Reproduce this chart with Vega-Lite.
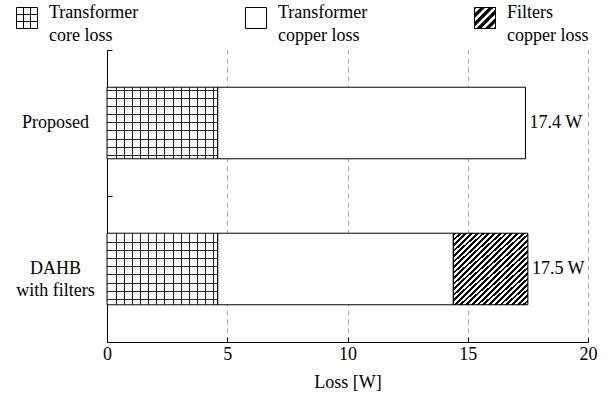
{
  "$schema": "https://vega.github.io/schema/vega-lite/v6.json",
  "width": 481,
  "height": 292,
  "autosize": {"type": "none"},
  "padding": {"left": 107, "top": 50, "right": 27, "bottom": 56},
  "background": "white",
  "data": {
    "values": [
      {"method": "Proposed", "component": "Transformer core loss", "start": 0, "end": 4.6},
      {"method": "Proposed", "component": "Transformer copper loss", "start": 4.6, "end": 17.4},
      {"method": "DAHB with filters", "component": "Transformer core loss", "start": 0, "end": 4.6},
      {"method": "DAHB with filters", "component": "Transformer copper loss", "start": 4.6, "end": 14.4},
      {"method": "DAHB with filters", "component": "Filters copper loss", "start": 14.4, "end": 17.5}
    ]
  },
  "layer": [
    {
      "mark": {"type": "bar", "height": {"band": 0.49}, "stroke": null},
      "encoding": {
        "x": {"field": "start", "type": "quantitative", "scale": {"domain": [0, 20], "nice": false}, "title": "Loss [W]"},
        "x2": {"field": "end"},
        "y": {"field": "method", "type": "nominal", "scale": {"domain": ["Proposed", "DAHB with filters"], "paddingInner": 0, "paddingOuter": 0}, "title": null},
        "fill": {
          "field": "component", "type": "nominal",
          "scale": {"domain": ["Transformer core loss", "Transformer copper loss", "Filters copper loss"], "range": ["white", "white", "black"]},
          "legend": {
            "orient": "none", "legendX": -91, "legendY": -43,
            "direction": "horizontal", "columns": 3, "title": null,
            "symbolType": "square", "symbolSize": 441, "symbolStrokeColor": "black", "symbolStrokeWidth": 1,
            "labelFont": "Liberation Serif", "labelFontSize": 18, "labelColor": "black", "labelOffset": 11,
            "columnPadding": 104, "labelLimit": 200,
            "labelExpr": "[slice(datum.label, 0, indexof(datum.label, ' ')), slice(datum.label, indexof(datum.label, ' ') + 1)]",
            "encode": {
              "labels": {"update": {"lineHeight": {"value": 23}, "dy": {"value": -5}}},
              "symbols": {"update": {
                "shape": [
                  {"test": "datum.value === 'Transformer core loss'", "value": "M-1,-1H1V1H-1Z M-0.333,-1V1 M0.333,-1V1 M-1,-0.333H1 M-1,0.333H1"},
                  {"test": "datum.value === 'Filters copper loss'", "value": "M-1,-1H1V1H-1Z M-1,-0.375L-0.375,-1L-0.825,-1L-1,-0.825Z M-1,0.425L0.425,-1L-0.025,-1L-1,-0.025Z M-1,0.775L-1,1L-0.775,1L1,-0.775L1,-1L0.775,-1Z M-0.425,1L0.025,1L1,0.025L1,-0.425Z M0.375,1L0.825,1L1,0.825L1,0.375Z"},
                  {"value": "square"}
                ],
                "stroke": {"value": "black"},
                "strokeWidth": {"value": 1}
              }}
            }
          }
        }
      }
    },
    {
      "transform": [{"filter": "datum.component === 'Transformer core loss'"}],
      "mark": {"type": "bar", "height": {"band": 0.49}, "fill": {"gradient": "linear", "x1": 0, "y1": 0, "x2": 1, "y2": 0, "stops": [
        {"offset": 0, "color": "rgba(0,0,0,0)"},
        {"offset": 0.0818, "color": "rgba(0,0,0,0)"}, {"offset": 0.0818, "color": "#222"}, {"offset": 0.0900, "color": "#222"}, {"offset": 0.0900, "color": "rgba(0,0,0,0)"},
        {"offset": 0.1541, "color": "rgba(0,0,0,0)"}, {"offset": 0.1541, "color": "#222"}, {"offset": 0.1623, "color": "#222"}, {"offset": 0.1623, "color": "rgba(0,0,0,0)"},
        {"offset": 0.2264, "color": "rgba(0,0,0,0)"}, {"offset": 0.2264, "color": "#222"}, {"offset": 0.2346, "color": "#222"}, {"offset": 0.2346, "color": "rgba(0,0,0,0)"},
        {"offset": 0.2987, "color": "rgba(0,0,0,0)"}, {"offset": 0.2987, "color": "#222"}, {"offset": 0.3069, "color": "#222"}, {"offset": 0.3069, "color": "rgba(0,0,0,0)"},
        {"offset": 0.3710, "color": "rgba(0,0,0,0)"}, {"offset": 0.3710, "color": "#222"}, {"offset": 0.3792, "color": "#222"}, {"offset": 0.3792, "color": "rgba(0,0,0,0)"},
        {"offset": 0.4433, "color": "rgba(0,0,0,0)"}, {"offset": 0.4433, "color": "#222"}, {"offset": 0.4515, "color": "#222"}, {"offset": 0.4515, "color": "rgba(0,0,0,0)"},
        {"offset": 0.5157, "color": "rgba(0,0,0,0)"}, {"offset": 0.5157, "color": "#222"}, {"offset": 0.5239, "color": "#222"}, {"offset": 0.5239, "color": "rgba(0,0,0,0)"},
        {"offset": 0.5970, "color": "rgba(0,0,0,0)"}, {"offset": 0.5970, "color": "#222"}, {"offset": 0.6052, "color": "#222"}, {"offset": 0.6052, "color": "rgba(0,0,0,0)"},
        {"offset": 0.6693, "color": "rgba(0,0,0,0)"}, {"offset": 0.6693, "color": "#222"}, {"offset": 0.6775, "color": "#222"}, {"offset": 0.6775, "color": "rgba(0,0,0,0)"},
        {"offset": 0.7416, "color": "rgba(0,0,0,0)"}, {"offset": 0.7416, "color": "#222"}, {"offset": 0.7498, "color": "#222"}, {"offset": 0.7498, "color": "rgba(0,0,0,0)"},
        {"offset": 0.8139, "color": "rgba(0,0,0,0)"}, {"offset": 0.8139, "color": "#222"}, {"offset": 0.8221, "color": "#222"}, {"offset": 0.8221, "color": "rgba(0,0,0,0)"},
        {"offset": 0.8862, "color": "rgba(0,0,0,0)"}, {"offset": 0.8862, "color": "#222"}, {"offset": 0.8944, "color": "#222"}, {"offset": 0.8944, "color": "rgba(0,0,0,0)"},
        {"offset": 0.9586, "color": "rgba(0,0,0,0)"}, {"offset": 0.9586, "color": "#222"}, {"offset": 0.9668, "color": "#222"}, {"offset": 0.9668, "color": "rgba(0,0,0,0)"},
        {"offset": 1, "color": "rgba(0,0,0,0)"}
      ]}},
      "encoding": {
        "x": {"field": "start", "type": "quantitative", "title": "Loss [W]"},
        "x2": {"field": "end"},
        "y": {"field": "method", "type": "nominal", "title": null}
      }
    },
    {
      "transform": [{"filter": "datum.component === 'Transformer core loss'"}],
      "mark": {"type": "bar", "height": {"band": 0.49}},
      "encoding": {
        "x": {"field": "start", "type": "quantitative", "title": "Loss [W]"},
        "x2": {"field": "end"},
        "y": {"field": "method", "type": "nominal", "title": null},
        "fill": {
          "condition": {"test": "datum.method === 'Proposed'", "value": {"gradient": "linear", "x1": 0, "y1": 0, "x2": 0, "y2": 1, "stops": [
            {"offset": 0, "color": "rgba(0,0,0,0)"},
            {"offset": 0.0394, "color": "rgba(0,0,0,0)"}, {"offset": 0.0394, "color": "#222"}, {"offset": 0.0520, "color": "#222"}, {"offset": 0.0520, "color": "rgba(0,0,0,0)"},
            {"offset": 0.1512, "color": "rgba(0,0,0,0)"}, {"offset": 0.1512, "color": "#222"}, {"offset": 0.1638, "color": "#222"}, {"offset": 0.1638, "color": "rgba(0,0,0,0)"},
            {"offset": 0.2631, "color": "rgba(0,0,0,0)"}, {"offset": 0.2631, "color": "#222"}, {"offset": 0.2757, "color": "#222"}, {"offset": 0.2757, "color": "rgba(0,0,0,0)"},
            {"offset": 0.3749, "color": "rgba(0,0,0,0)"}, {"offset": 0.3749, "color": "#222"}, {"offset": 0.3875, "color": "#222"}, {"offset": 0.3875, "color": "rgba(0,0,0,0)"},
            {"offset": 0.4867, "color": "rgba(0,0,0,0)"}, {"offset": 0.4867, "color": "#222"}, {"offset": 0.4993, "color": "#222"}, {"offset": 0.4993, "color": "rgba(0,0,0,0)"},
            {"offset": 0.5985, "color": "rgba(0,0,0,0)"}, {"offset": 0.5985, "color": "#222"}, {"offset": 0.6111, "color": "#222"}, {"offset": 0.6111, "color": "rgba(0,0,0,0)"},
            {"offset": 0.7243, "color": "rgba(0,0,0,0)"}, {"offset": 0.7243, "color": "#222"}, {"offset": 0.7369, "color": "#222"}, {"offset": 0.7369, "color": "rgba(0,0,0,0)"},
            {"offset": 0.8362, "color": "rgba(0,0,0,0)"}, {"offset": 0.8362, "color": "#222"}, {"offset": 0.8488, "color": "#222"}, {"offset": 0.8488, "color": "rgba(0,0,0,0)"},
            {"offset": 0.9480, "color": "rgba(0,0,0,0)"}, {"offset": 0.9480, "color": "#222"}, {"offset": 0.9606, "color": "#222"}, {"offset": 0.9606, "color": "rgba(0,0,0,0)"},
            {"offset": 1, "color": "rgba(0,0,0,0)"}
          ]}},
          "value": {"gradient": "linear", "x1": 0, "y1": 0, "x2": 0, "y2": 1, "stops": [
            {"offset": 0, "color": "rgba(0,0,0,0)"},
            {"offset": 0.1233, "color": "rgba(0,0,0,0)"}, {"offset": 0.1233, "color": "#222"}, {"offset": 0.1359, "color": "#222"}, {"offset": 0.1359, "color": "rgba(0,0,0,0)"},
            {"offset": 0.2351, "color": "rgba(0,0,0,0)"}, {"offset": 0.2351, "color": "#222"}, {"offset": 0.2477, "color": "#222"}, {"offset": 0.2477, "color": "rgba(0,0,0,0)"},
            {"offset": 0.3469, "color": "rgba(0,0,0,0)"}, {"offset": 0.3469, "color": "#222"}, {"offset": 0.3595, "color": "#222"}, {"offset": 0.3595, "color": "rgba(0,0,0,0)"},
            {"offset": 0.4588, "color": "rgba(0,0,0,0)"}, {"offset": 0.4588, "color": "#222"}, {"offset": 0.4714, "color": "#222"}, {"offset": 0.4714, "color": "rgba(0,0,0,0)"},
            {"offset": 0.5706, "color": "rgba(0,0,0,0)"}, {"offset": 0.5706, "color": "#222"}, {"offset": 0.5832, "color": "#222"}, {"offset": 0.5832, "color": "rgba(0,0,0,0)"},
            {"offset": 0.6964, "color": "rgba(0,0,0,0)"}, {"offset": 0.6964, "color": "#222"}, {"offset": 0.7090, "color": "#222"}, {"offset": 0.7090, "color": "rgba(0,0,0,0)"},
            {"offset": 0.8082, "color": "rgba(0,0,0,0)"}, {"offset": 0.8082, "color": "#222"}, {"offset": 0.8208, "color": "#222"}, {"offset": 0.8208, "color": "rgba(0,0,0,0)"},
            {"offset": 0.9200, "color": "rgba(0,0,0,0)"}, {"offset": 0.9200, "color": "#222"}, {"offset": 0.9326, "color": "#222"}, {"offset": 0.9326, "color": "rgba(0,0,0,0)"},
            {"offset": 1, "color": "rgba(0,0,0,0)"}
          ]}
        }
      }
    },
    {
      "transform": [{"filter": "datum.component === 'Filters copper loss'"}],
      "mark": {"type": "bar", "height": {"band": 0.49}, "fill": {"gradient": "linear", "x1": 0, "y1": 0, "x2": 1, "y2": 1, "stops": [
        {"offset": 0, "color": "#000"}, {"offset": 0.01923, "color": "#000"}, {"offset": 0.01923, "color": "#fff"}, {"offset": 0.03846, "color": "#fff"},
        {"offset": 0.03846, "color": "#000"}, {"offset": 0.05769, "color": "#000"}, {"offset": 0.05769, "color": "#fff"}, {"offset": 0.07692, "color": "#fff"},
        {"offset": 0.07692, "color": "#000"}, {"offset": 0.09615, "color": "#000"}, {"offset": 0.09615, "color": "#fff"}, {"offset": 0.11538, "color": "#fff"},
        {"offset": 0.11538, "color": "#000"}, {"offset": 0.13462, "color": "#000"}, {"offset": 0.13462, "color": "#fff"}, {"offset": 0.15385, "color": "#fff"},
        {"offset": 0.15385, "color": "#000"}, {"offset": 0.17308, "color": "#000"}, {"offset": 0.17308, "color": "#fff"}, {"offset": 0.19231, "color": "#fff"},
        {"offset": 0.19231, "color": "#000"}, {"offset": 0.21154, "color": "#000"}, {"offset": 0.21154, "color": "#fff"}, {"offset": 0.23077, "color": "#fff"},
        {"offset": 0.23077, "color": "#000"}, {"offset": 0.25, "color": "#000"}, {"offset": 0.25, "color": "#fff"}, {"offset": 0.26923, "color": "#fff"},
        {"offset": 0.26923, "color": "#000"}, {"offset": 0.28846, "color": "#000"}, {"offset": 0.28846, "color": "#fff"}, {"offset": 0.30769, "color": "#fff"},
        {"offset": 0.30769, "color": "#000"}, {"offset": 0.32692, "color": "#000"}, {"offset": 0.32692, "color": "#fff"}, {"offset": 0.34615, "color": "#fff"},
        {"offset": 0.34615, "color": "#000"}, {"offset": 0.36538, "color": "#000"}, {"offset": 0.36538, "color": "#fff"}, {"offset": 0.38462, "color": "#fff"},
        {"offset": 0.38462, "color": "#000"}, {"offset": 0.40385, "color": "#000"}, {"offset": 0.40385, "color": "#fff"}, {"offset": 0.42308, "color": "#fff"},
        {"offset": 0.42308, "color": "#000"}, {"offset": 0.44231, "color": "#000"}, {"offset": 0.44231, "color": "#fff"}, {"offset": 0.46154, "color": "#fff"},
        {"offset": 0.46154, "color": "#000"}, {"offset": 0.48077, "color": "#000"}, {"offset": 0.48077, "color": "#fff"}, {"offset": 0.5, "color": "#fff"},
        {"offset": 0.5, "color": "#000"}, {"offset": 0.51923, "color": "#000"}, {"offset": 0.51923, "color": "#fff"}, {"offset": 0.53846, "color": "#fff"},
        {"offset": 0.53846, "color": "#000"}, {"offset": 0.55769, "color": "#000"}, {"offset": 0.55769, "color": "#fff"}, {"offset": 0.57692, "color": "#fff"},
        {"offset": 0.57692, "color": "#000"}, {"offset": 0.59615, "color": "#000"}, {"offset": 0.59615, "color": "#fff"}, {"offset": 0.61538, "color": "#fff"},
        {"offset": 0.61538, "color": "#000"}, {"offset": 0.63462, "color": "#000"}, {"offset": 0.63462, "color": "#fff"}, {"offset": 0.65385, "color": "#fff"},
        {"offset": 0.65385, "color": "#000"}, {"offset": 0.67308, "color": "#000"}, {"offset": 0.67308, "color": "#fff"}, {"offset": 0.69231, "color": "#fff"},
        {"offset": 0.69231, "color": "#000"}, {"offset": 0.71154, "color": "#000"}, {"offset": 0.71154, "color": "#fff"}, {"offset": 0.73077, "color": "#fff"},
        {"offset": 0.73077, "color": "#000"}, {"offset": 0.75, "color": "#000"}, {"offset": 0.75, "color": "#fff"}, {"offset": 0.76923, "color": "#fff"},
        {"offset": 0.76923, "color": "#000"}, {"offset": 0.78846, "color": "#000"}, {"offset": 0.78846, "color": "#fff"}, {"offset": 0.80769, "color": "#fff"},
        {"offset": 0.80769, "color": "#000"}, {"offset": 0.82692, "color": "#000"}, {"offset": 0.82692, "color": "#fff"}, {"offset": 0.84615, "color": "#fff"},
        {"offset": 0.84615, "color": "#000"}, {"offset": 0.86538, "color": "#000"}, {"offset": 0.86538, "color": "#fff"}, {"offset": 0.88462, "color": "#fff"},
        {"offset": 0.88462, "color": "#000"}, {"offset": 0.90385, "color": "#000"}, {"offset": 0.90385, "color": "#fff"}, {"offset": 0.92308, "color": "#fff"},
        {"offset": 0.92308, "color": "#000"}, {"offset": 0.94231, "color": "#000"}, {"offset": 0.94231, "color": "#fff"}, {"offset": 0.96154, "color": "#fff"},
        {"offset": 0.96154, "color": "#000"}, {"offset": 0.98077, "color": "#000"}, {"offset": 0.98077, "color": "#fff"}, {"offset": 1, "color": "#fff"}
      ]}},
      "encoding": {
        "x": {"field": "start", "type": "quantitative", "title": "Loss [W]"},
        "x2": {"field": "end"},
        "y": {"field": "method", "type": "nominal", "title": null}
      }
    },
    {
      "mark": {"type": "bar", "height": {"band": 0.49}, "fill": null, "fillOpacity": 0, "stroke": "black", "strokeWidth": 1},
      "encoding": {
        "x": {"field": "start", "type": "quantitative", "title": "Loss [W]"},
        "x2": {"field": "end"},
        "y": {"field": "method", "type": "nominal", "title": null}
      }
    },
    {
      "data": {
        "values": [
          {"method": "Proposed", "total": 17.4, "label": "17.4 W"},
          {"method": "DAHB with filters", "total": 17.5, "label": "17.5 W"}
        ]
      },
      "mark": {"type": "text", "align": "left", "baseline": "middle", "dx": 4, "font": "Liberation Serif", "fontSize": 18, "color": "black"},
      "encoding": {
        "x": {"field": "total", "type": "quantitative", "title": "Loss [W]"},
        "y": {"field": "method", "type": "nominal", "title": null},
        "text": {"field": "label"}
      }
    }
  ],
  "config": {
    "view": {"stroke": null},
    "axis": {
      "labelFont": "Liberation Serif", "labelFontSize": 18, "labelColor": "black",
      "titleFont": "Liberation Serif", "titleFontSize": 18, "titleFontWeight": "normal", "titleColor": "black",
      "domainColor": "black", "tickColor": "black"
    },
    "axisX": {
      "tickCount": 4, "grid": true, "gridColor": "#aaaaaa", "gridDash": [5, 4], "gridWidth": 1,
      "tickSize": -5, "labelPadding": 8, "titlePadding": 10, "labelFlush": false
    },
    "axisY": {
      "grid": false, "tickSize": -5, "bandPosition": 0, "labelAlign": "center", "labelPadding": 57,
      "labelLineHeight": 22,
      "labelExpr": "datum.value === 'DAHB with filters' ? ['DAHB', 'with filters'] : datum.label"
    }
  }
}
